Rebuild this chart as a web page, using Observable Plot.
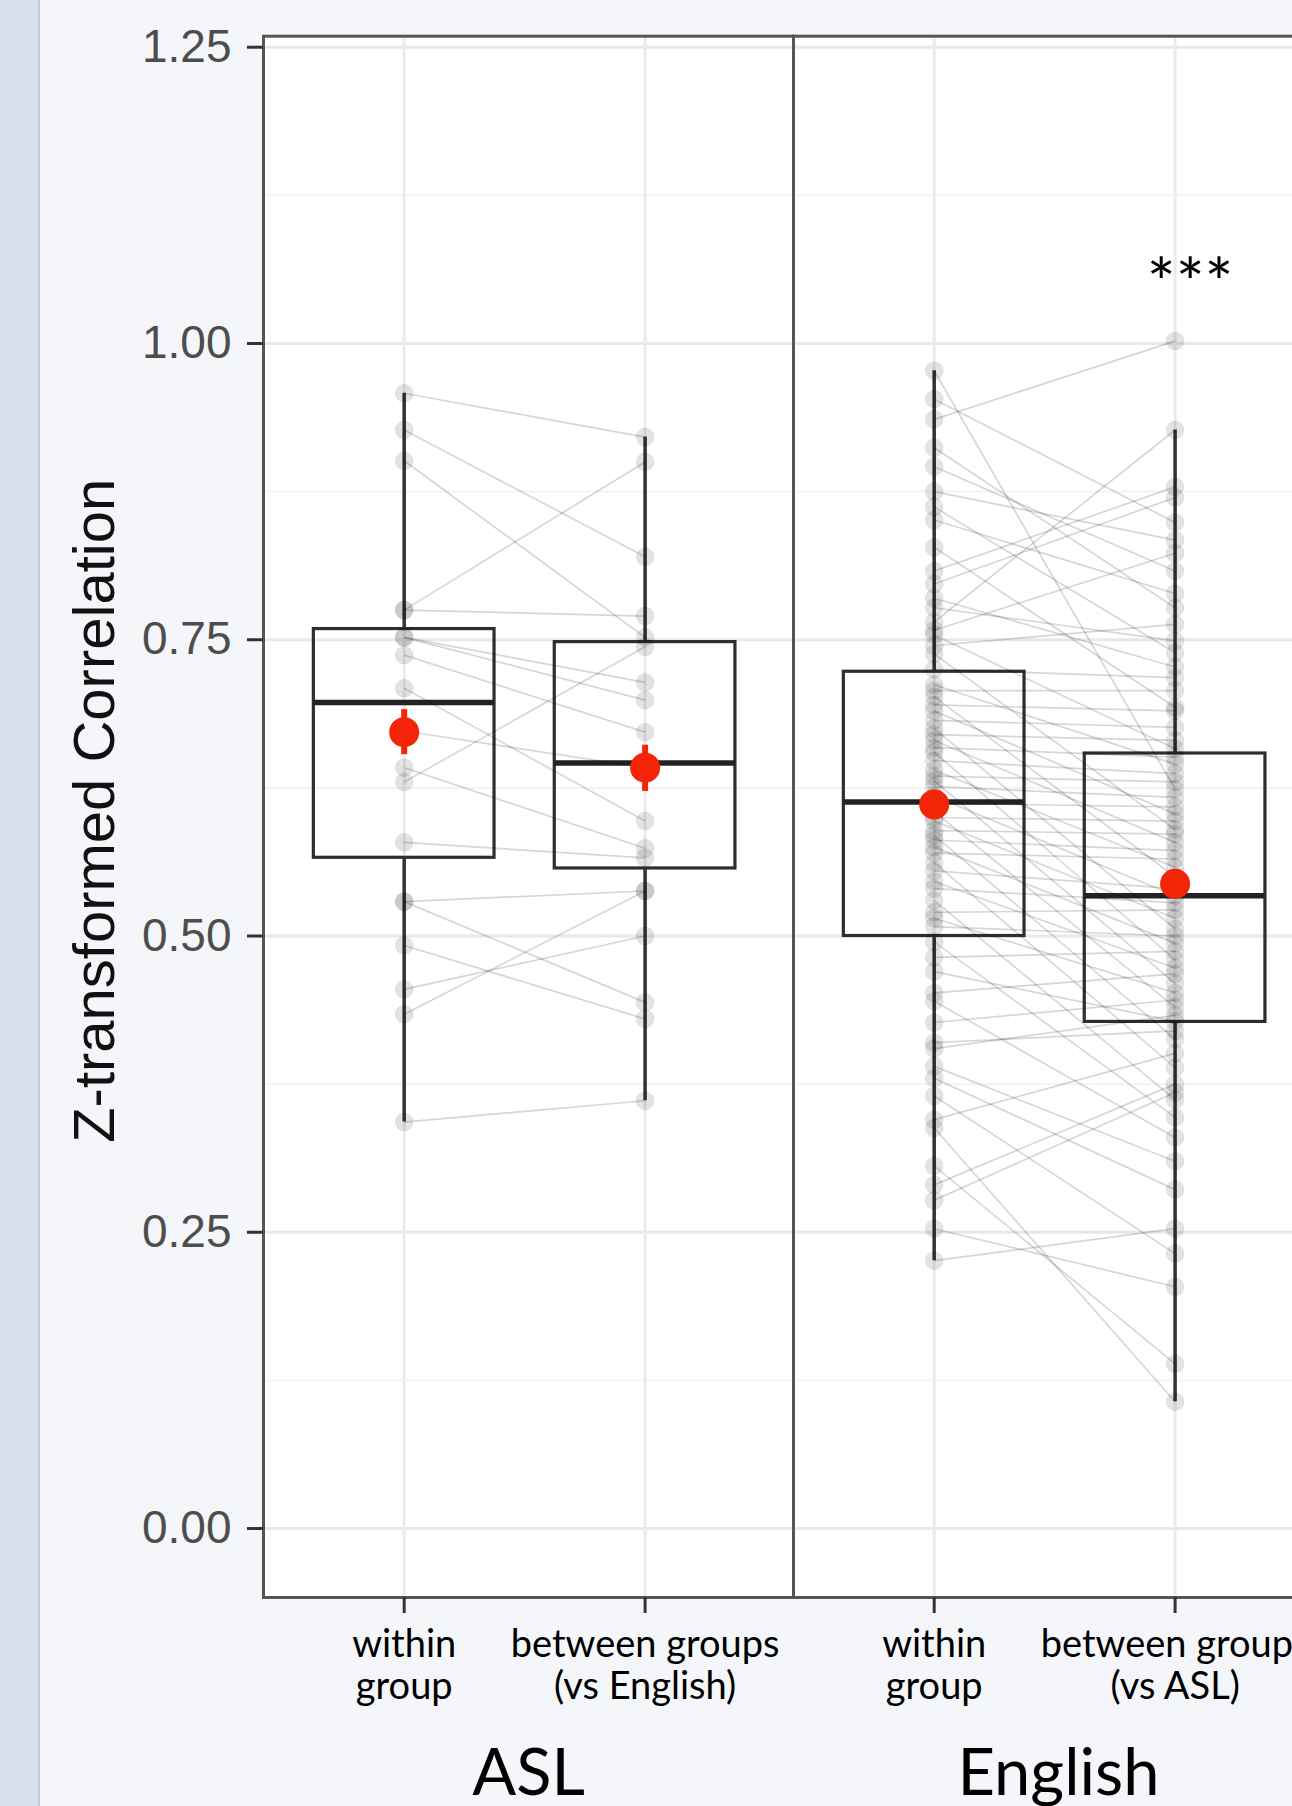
<!DOCTYPE html>
<html><head><meta charset="utf-8">
<script src="https://cdn.jsdelivr.net/npm/d3@7"></script>
<script src="https://cdn.jsdelivr.net/npm/@observablehq/plot@0.6"></script>
<style>
html,body{margin:0;padding:0;background:#f4f6fa;}
#side{position:absolute;left:0;top:0;width:38px;height:1806px;background:#d9e0f0;border-right:2px solid #bfcbe9;}
#chart{position:absolute;left:0;top:0;width:1292px;height:1806px;overflow:hidden;}
</style></head><body>
<div id="side"></div><div id="chart"></div>
<script>
// ---- data ----
const languages = ["ASL", "English"];
const conditions = [0, 1]; // 0 = within group, 1 = between groups

// paired subject values, ASL
const aslWithin  = [0.958,0.927,0.901,0.775,0.775,0.752,0.752,0.737,0.709,0.673,0.642,0.630,0.579,0.529,0.529,0.492,0.455,0.434,0.343];
const aslBetween = [0.921,0.820,0.752,0.900,0.770,0.714,0.699,0.672,0.597,0.642,0.574,0.744,0.566,0.538,0.444,0.430,0.500,0.538,0.361];

// paired subject values, English
const engWithin = [0.977,0.953,0.936,0.912,0.896,0.875,0.862,0.851,0.828,0.808,
  0.797,0.785,0.777,0.765,0.758,0.754,0.745,0.738,0.725,0.712,
  0.707,0.702,0.695,0.690,0.682,0.675,0.670,0.665,0.659,0.655,
  0.648,0.640,0.635,0.631,0.626,0.618,0.612,0.605,0.600,0.597,
  0.589,0.585,0.581,0.575,0.570,0.562,0.555,0.546,0.540,0.530,
  0.520,0.515,0.508,0.495,0.482,0.470,0.452,0.445,0.427,0.410,
  0.405,0.390,0.380,0.365,0.345,0.338,0.306,0.290,0.277,0.253,0.226];
const engBetween = [0.624,0.849,1.002,0.777,0.808,0.834,0.739,0.789,0.693,0.879,
  0.870,0.727,0.749,0.927,0.823,0.658,0.763,0.590,0.718,0.645,
  0.707,0.550,0.690,0.603,0.676,0.506,0.665,0.579,0.651,0.480,
  0.637,0.558,0.630,0.460,0.617,0.534,0.609,0.440,0.597,0.515,
  0.586,0.413,0.572,0.494,0.565,0.389,0.540,0.473,0.528,0.362,
  0.522,0.452,0.500,0.347,0.487,0.428,0.468,0.330,0.446,0.420,
  0.433,0.310,0.286,0.232,0.401,0.107,0.139,0.375,0.368,0.204,0.253];

// box-plot summaries
const boxLanguage  = ["ASL","ASL","English","English"];
const boxCondition = [0, 1, 0, 1];
const boxLower     = [0.343, 0.361, 0.226, 0.107];
const boxQ1        = [0.566, 0.557, 0.500, 0.4275];
const boxMedian    = [0.697, 0.646, 0.613, 0.534];
const boxQ3        = [0.759, 0.748, 0.723, 0.654];
const boxUpper     = [0.958, 0.921, 0.977, 0.927];
// mean ± standard error
const meanValue = [0.672, 0.642, 0.611, 0.544];
const meanLow   = [0.653, 0.622, 0.600, 0.534];
const meanHigh  = [0.691, 0.661, 0.622, 0.554];

// tick labels
const yTicks = [0, 0.25, 0.5, 0.75, 1.0, 1.25];
const yMinorTicks = [0.125, 0.375, 0.625, 0.875, 1.125];
const xTickLanguage = ["ASL","ASL","English","English"];
const xTickCondition = [0, 1, 0, 1];
const xTickText = ["within\ngroup", "between groups\n(vs English)", "within\ngroup", "between groups\n(vs ASL)"];

// significance annotation
const sigLanguage = ["English"];
const sigCondition = [1];
const sigValue = [1.049];
const sigText = ["***"];

const yTitle = "Z-transformed Correlation";

// ---- tables ----
const pairs = [
  ...aslWithin.map((w, i) => ({lang: "ASL", w, b: aslBetween[i]})),
  ...engWithin.map((w, i) => ({lang: "English", w, b: engBetween[i]}))
];
const points = pairs.flatMap(p => [{lang: p.lang, cond: 0, v: p.w}, {lang: p.lang, cond: 1, v: p.b}]);
const boxes = boxLanguage.map((lang, i) => ({
  lang, cond: boxCondition[i], lo: boxLower[i], q1: boxQ1[i], med: boxMedian[i], q3: boxQ3[i], hi: boxUpper[i],
  mean: meanValue[i], mlo: meanLow[i], mhi: meanHigh[i]
}));
const xLabels = xTickLanguage.map((lang, i) => ({lang, cond: xTickCondition[i], text: xTickText[i]}));
const sig = sigLanguage.map((lang, i) => ({lang, cond: sigCondition[i], v: sigValue[i], text: sigText[i]}));

const halfBox = 0.375;
const panelW = 530.5;
const mLeft = 262.5, mRight = 20;

const chart = Plot.plot({
  width: mLeft + 2 * panelW + mRight,
  height: 1806,
  marginLeft: mLeft,
  marginRight: mRight,
  marginTop: 35.7,
  marginBottom: 209,
  style: {background: "transparent", maxWidth: "none", fontFamily: "Liberation Sans, Arial, sans-serif", overflow: "visible"},
  fx: {domain: languages, padding: 0, axis: null, label: null},
  x: {domain: [-0.584, 1.616], axis: null, label: null},
  y: {domain: [-0.0582, 1.2593], axis: null, label: null},
  marks: [
    Plot.frame({fill: "white"}),
    Plot.gridY(yMinorTicks, {stroke: "#f3f3f3", strokeOpacity: 1, strokeWidth: 2}),
    Plot.gridY(yTicks, {stroke: "#e8e8e8", strokeOpacity: 1, strokeWidth: 3}),
    Plot.gridX(conditions, {stroke: "#ebebeb", strokeOpacity: 1, strokeWidth: 3}),
    // whiskers
    Plot.ruleX(boxes, {fx: "lang", x: "cond", y1: "lo", y2: "q1", stroke: "#333", strokeWidth: 3.5}),
    Plot.ruleX(boxes, {fx: "lang", x: "cond", y1: "q3", y2: "hi", stroke: "#333", strokeWidth: 3.5}),
    // boxes
    Plot.rect(boxes, {fx: "lang", x1: d => d.cond - halfBox, x2: d => d.cond + halfBox, y1: "q1", y2: "q3", fill: "none", stroke: "#2e2e2e", strokeWidth: 3.2}),
    Plot.ruleY(boxes, {fx: "lang", x1: d => d.cond - halfBox, x2: d => d.cond + halfBox, y: "med", stroke: "#222", strokeWidth: 5.5}),
    // subject lines
    Plot.link(pairs, {fx: "lang", x1: () => 0, y1: "w", x2: () => 1, y2: "b", stroke: "#000", strokeOpacity: 0.16, strokeWidth: 1.7}),
    // subject points
    Plot.dot(points, {fx: "lang", x: "cond", y: "v", r: 9, fill: "#000", fillOpacity: 0.11, stroke: "#000", strokeOpacity: 0.05, strokeWidth: 1}),
    // mean ± se
    Plot.ruleX(boxes, {fx: "lang", x: "cond", y1: "mlo", y2: "mhi", stroke: "#f32408", strokeWidth: 6}),
    Plot.dot(boxes, {fx: "lang", x: "cond", y: "mean", r: 15, fill: "#f32408", stroke: "none"}),
    // significance
    Plot.text(sig, {fx: "lang", x: "cond", y: "v", text: "text", dx: 15, fontSize: 68, fontFamily: "Lato", fill: "#000", lineAnchor: "middle"}),
    // panel border
    Plot.frame({stroke: "#555", strokeWidth: 3}),
    // axes
    Plot.axisY({ticks: yTicks, tickFormat: d3.format(".2f"), tickSize: 16, tickPadding: 16, fontSize: 46, fill: "#4d4d4d", stroke: "#333", strokeWidth: 3, label: null}),
    Plot.axisX({ticks: conditions, tickFormat: () => "", tickSize: 16, stroke: "#333", strokeWidth: 3, label: null}),
    Plot.text(xLabels, {fx: "lang", x: "cond", text: "text", frameAnchor: "bottom", lineAnchor: "top", dy: 30, fontSize: 38, fontFamily: "Lato", lineHeight: 1.1, fill: "#000"}),
    Plot.axisFx({anchor: "bottom", tickSize: 0, tickPadding: 151, fontSize: 65, fontFamily: "Lato", fill: "#000", label: null}),
    Plot.text(["ASL"], {fx: d => d, frameAnchor: "left", textAnchor: "middle", lineAnchor: "middle", dx: -168, dy: -6, rotate: -90, text: () => yTitle, fontSize: 58, fontFamily: "Liberation Sans", fill: "#111"})
  ]
});
document.getElementById("chart").appendChild(chart);
</script>
</body></html>
